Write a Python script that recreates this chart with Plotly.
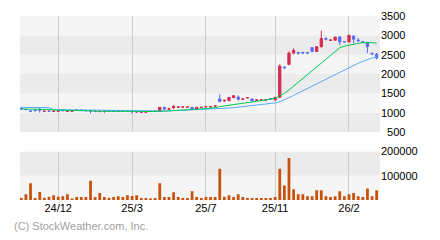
import plotly.graph_objects as go

# ---------------- data (weekly) ----------------
x_tick_idx = [8, 24, 40, 55, 71]
x_tick_text = ["24/12", "25/3", "25/7", "25/11", "26/2"]
price_ticks = [500, 1000, 1500, 2000, 2500, 3000, 3500]
vol_ticks = [100000, 200000]

open_ = [1117, 1090, 1050, 1070, 1083, 1038, 1048, 1038, 1040, 1062, 1038, 1040, 1063, 1070, 1062, 1060,
         1045, 1030, 1035, 1060, 1055, 1038, 1038, 1062, 1040, 1022, 1015, 1015, 1035, 1036, 1042, 1142,
         1095, 1133, 1145, 1145, 1145, 1142, 1083, 1138, 1152, 1152, 1175, 1358, 1310, 1317, 1392, 1408,
         1352, 1385, 1358, 1325, 1328, 1328, 1362, 1333, 1400, 2180, 2250, 2542, 2560, 2560, 2560, 2683,
         2583, 2708, 2920, 2870, 2875, 2958, 2840, 2833, 2983, 2880, 2833, 2817, 2540, 2517]
high = [1142, 1095, 1067, 1083, 1142, 1046, 1050, 1046, 1048, 1065, 1046, 1048, 1072, 1075, 1066, 1067,
        1048, 1036, 1045, 1067, 1058, 1046, 1046, 1067, 1042, 1030, 1022, 1022, 1045, 1046, 1150, 1150,
        1110, 1200, 1155, 1155, 1158, 1150, 1150, 1150, 1167, 1167, 1200, 1483, 1350, 1408, 1450, 1450,
        1362, 1398, 1365, 1358, 1340, 1340, 1365, 1408, 2250, 2208, 2583, 2667, 2575, 2575, 2570, 2700,
        2717, 3125, 2950, 2885, 2958, 2983, 2845, 3017, 3000, 2933, 2840, 2825, 2545, 2542]
low = [1083, 1080, 1017, 1033, 1000, 1035, 1038, 1035, 1036, 1050, 1035, 1036, 1058, 1060, 1050, 983,
       1017, 1025, 1000, 1017, 1017, 1035, 1035, 1033, 983, 1015, 1010, 1010, 1030, 1030, 1030, 1067,
       1083, 1100, 1140, 1140, 1140, 1075, 1075, 1133, 1145, 1142, 1158, 1275, 1283, 1300, 1385, 1317,
       1333, 1380, 1300, 1308, 1322, 1322, 1350, 1325, 1390, 2125, 2233, 2517, 2500, 2520, 2520, 2575,
       2575, 2683, 2870, 2865, 2870, 2750, 2825, 2817, 2792, 2833, 2817, 2542, 2500, 2375]
close = [1100, 1083, 1042, 1058, 1067, 1045, 1040, 1045, 1046, 1055, 1045, 1046, 1070, 1064, 1055, 1050,
         1035, 1035, 1042, 1050, 1035, 1045, 1045, 1055, 1030, 1028, 1020, 1020, 1042, 1044, 1142, 1100,
         1105, 1167, 1152, 1152, 1150, 1083, 1142, 1145, 1160, 1160, 1185, 1292, 1320, 1400, 1442, 1350,
         1360, 1392, 1308, 1335, 1335, 1335, 1355, 1400, 2208, 2165, 2542, 2608, 2545, 2545, 2545, 2583,
         2708, 2917, 2900, 2880, 2958, 2833, 2833, 3000, 2900, 2860, 2825, 2708, 2520, 2417]
ma_short = [1100, 1100, 1098, 1095, 1093, 1090, 1088,
            1075, 1070, 1067, 1065, 1062, 1060,
            1050, 1048, 1045, 1043, 1042, 1040, 1040, 1038, 1038, 1037, 1037, 1036, 1035, 1034, 1033,
            1035, 1036, 1040, 1045, 1050, 1058, 1065, 1070, 1075,
            1080, 1090, 1100, 1110, 1120, 1135, 1160, 1180, 1200, 1220, 1240, 1255, 1270, 1285, 1300,
            1315, 1330, 1345, 1375,
            1440, 1500, 1590, 1690, 1780, 1880, 1980, 2080, 2180, 2290, 2400, 2500, 2600, 2680, 2720,
            2750, 2775, 2795, 2810, 2815, 2812, 2795]
ma_long = [1142, 1142, 1140, 1140, 1138, 1138, 1135,
           1085, 1083, 1082, 1080, 1078, 1075,
           1068, 1067, 1066, 1065, 1064, 1063, 1062, 1060,
           1050, 1048, 1046, 1045, 1044, 1043, 1042, 1042, 1042, 1042, 1045, 1050, 1055,
           1060, 1062, 1064, 1066,
           1072, 1078, 1084, 1090, 1096, 1105, 1115, 1125, 1135, 1148, 1160, 1172, 1185, 1198, 1210,
           1225, 1240, 1255,
           1290, 1330, 1390, 1450, 1510, 1570, 1640, 1700, 1760, 1820, 1870, 1920, 1980, 2040, 2100,
           2165, 2220, 2280, 2330, 2380, 2415, 2435]
volume = [8000, 24000, 69000, 8000, 33000, 9000, 13000, 20000, 13000, 16000, 24000, 4000, 12000, 12000,
          12000, 80000, 12000, 29000, 12000, 9000, 12000, 16000, 12000, 20000, 17000, 20000, 8000, 8000,
          4000, 8000, 69000, 12000, 12000, 32000, 12000, 8000, 8000, 36000, 12000, 8000, 12000, 12000,
          12000, 129000, 13000, 20000, 12000, 24000, 12000, 8000, 8000, 8000, 8000, 8000, 8000, 12000,
          129000, 60000, 173000, 44000, 24000, 24000, 16000, 16000, 40000, 40000, 16000, 12000, 16000,
          36000, 16000, 24000, 29000, 16000, 12000, 48000, 16000, 40000]

idx = list(range(len(close)))

# ---------------- styles ----------------
RED = "#d52a4e"
BLUE = "#5a6ef0"
GREEN = "#00c853"
LBLUE = "#5aaaff"
VOL = "#c8520c"
BAND_LIGHT = "#f5f5f5"
BAND_DARK = "#ebebeb"
FONT = "Liberation Sans, Arial, sans-serif"

fig = go.Figure()
fig.add_trace(go.Scatter(x=idx, y=ma_long, mode="lines", line=dict(color=LBLUE, width=1),
                         xaxis="x", yaxis="y", showlegend=False, hoverinfo="skip"))
fig.add_trace(go.Scatter(x=idx, y=ma_short, mode="lines", line=dict(color=GREEN, width=1),
                         xaxis="x", yaxis="y", showlegend=False, hoverinfo="skip"))
fig.add_trace(go.Candlestick(x=idx, open=open_, high=high, low=low, close=close,
                             increasing=dict(line=dict(color=RED, width=1), fillcolor=RED),
                             decreasing=dict(line=dict(color=BLUE, width=1), fillcolor=BLUE),
                             whiskerwidth=0, xaxis="x", yaxis="y", showlegend=False))
fig.add_trace(go.Bar(x=idx, y=volume, marker=dict(color=VOL, line=dict(width=0)), width=0.6,
                     xaxis="x2", yaxis="y2", showlegend=False))

shapes = []
for k in range(len(price_ticks) - 1):
    shapes.append(dict(type="rect", xref="x domain", yref="y", x0=0, x1=1,
                       y0=price_ticks[k], y1=price_ticks[k + 1],
                       fillcolor=BAND_DARK if k % 2 == 0 else BAND_LIGHT,
                       line=dict(width=0), layer="below"))
vol_edges = [0] + vol_ticks
for k in range(len(vol_edges) - 1):
    shapes.append(dict(type="rect", xref="x2 domain", yref="y2", x0=0, x1=1,
                       y0=vol_edges[k], y1=vol_edges[k + 1],
                       fillcolor=BAND_LIGHT if k % 2 == 0 else BAND_DARK,
                       line=dict(width=0), layer="below"))

xr = [-0.28, len(close) - 1 + 0.72]
price_text = [("\u2007" + str(v)) if v < 1000 else str(v) for v in price_ticks]

fig.update_layout(
    width=440, height=240,
    margin=dict(l=20, r=60, t=10, b=40),
    paper_bgcolor="white", plot_bgcolor="white",
    font=dict(family=FONT, size=11, color="#000000"),
    showlegend=False,
    shapes=shapes,
    xaxis=dict(domain=[0, 1], range=xr, anchor="y", tickvals=x_tick_idx, showticklabels=False,
               showgrid=True, gridcolor="#cccccc", gridwidth=1, zeroline=False, showline=False,
               ticks="", rangeslider=dict(visible=False)),
    yaxis=dict(domain=[70 / 190, 1], range=[500, 3500], side="right", anchor="x",
               tickvals=price_ticks, ticktext=price_text, showgrid=False, zeroline=False,
               ticks="", showline=False),
    xaxis2=dict(domain=[0, 1], range=xr, anchor="y2", tickvals=x_tick_idx, ticktext=x_tick_text,
                showgrid=True, gridcolor="#cccccc", gridwidth=1, zeroline=False, showline=False,
                ticks=""),
    yaxis2=dict(domain=[0, 50 / 190], range=[0, 200000], side="right", anchor="x2",
                tickvals=vol_ticks, ticktext=[str(v) for v in vol_ticks], showgrid=False,
                zeroline=False, ticks="", showline=False),
    annotations=[dict(text="(C) StockWeather.com, Inc.", xref="paper", yref="paper",
                      x=-8 / 360, y=-27 / 190, xanchor="left", yanchor="middle", showarrow=False,
                      font=dict(family=FONT, size=11, color="#a0a0a0"))],
    hovermode=False,
)

fig.write_html("out.html")
